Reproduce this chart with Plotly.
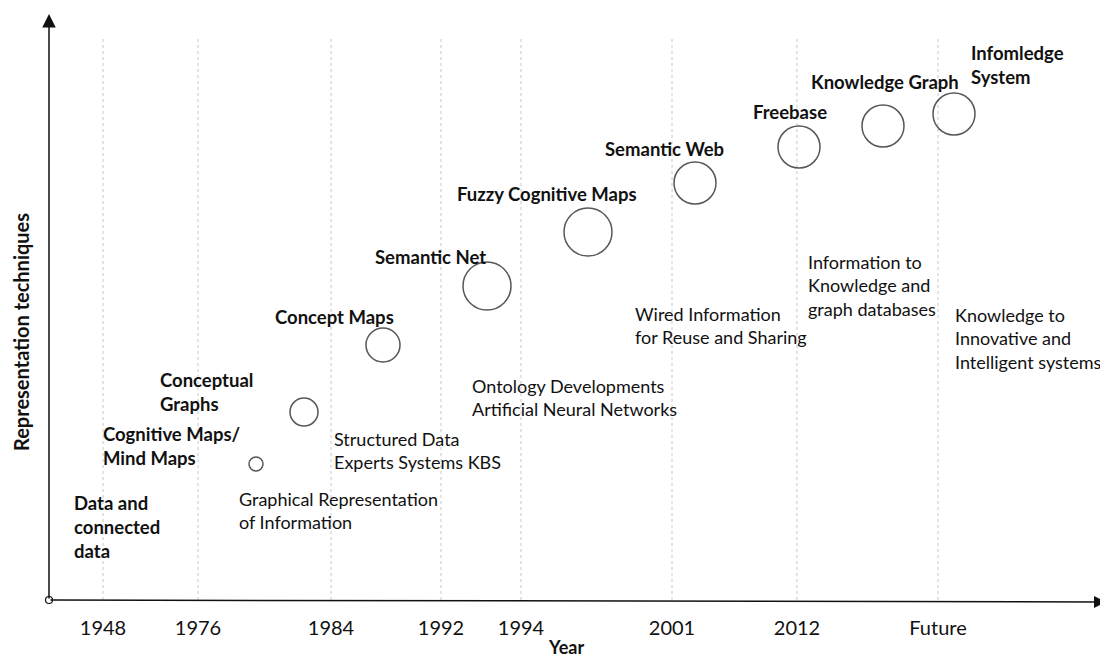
import plotly.graph_objects as go

# ---- data -------------------------------------------------------------
era_labels = ["1948", "1976", "1984", "1992", "1994", "2001", "2012", "Future"]
era_pos = [103, 198, 331, 441, 521, 672, 797, 938]

techniques = ["Cognitive Maps/<br>Mind Maps", "Conceptual<br>Graphs", "Concept Maps",
              "Semantic Net", "Fuzzy Cognitive Maps", "Semantic Web", "Freebase",
              "Knowledge Graph", "Infomledge<br>System"]
tech_x = [256, 304, 383, 487, 588, 695, 799, 883, 954]
tech_level = [136, 188, 255, 314, 368, 417, 453, 474, 486]
tech_size = [14, 28, 34, 48, 48, 42, 42, 42, 42]

# bold labels (technique names + starting point)
bold_text = ["Data and<br>connected<br>data"] + techniques
bold_x = [72, 101, 158, 273, 373, 455, 603, 751, 809, 969]
bold_y = [73, 154, 208, 283, 343, 406, 451, 488, 518, 535]

# descriptive labels
desc_text = ["Graphical Representation<br>of Information",
             "Structured Data<br>Experts Systems KBS",
             "Ontology Developments<br>Artificial Neural Networks",
             "Wired Information<br>for Reuse and Sharing",
             "Information to<br>Knowledge and<br>graph databases",
             "Knowledge to<br>Innovative and<br>Intelligent systems"]
desc_x = [237, 332, 470, 633, 806, 953]
desc_y = [90, 150, 203, 275, 315, 262]

FONT = "Lato"
INK = "#111111"
BOLD_SIZE = 18.5
DESC_SIZE = 18

fig = go.Figure()

# bubbles
fig.add_trace(go.Scatter(
    x=tech_x, y=tech_level, mode="markers",
    marker=dict(size=tech_size, color="rgba(255,255,255,0)",
                line=dict(color=INK, width=1.5)),
    hoverinfo="skip", showlegend=False, cliponaxis=False))

# origin circle
fig.add_trace(go.Scatter(
    x=[49], y=[0], mode="markers",
    marker=dict(size=7, color="white", line=dict(color=INK, width=1.2)),
    hoverinfo="skip", showlegend=False, cliponaxis=False))

shapes = []
for p in era_pos:
    shapes.append(dict(type="line", xref="x", yref="y", x0=p, x1=p, y0=0, y1=562,
                       line=dict(color="#c8c8c8", width=1, dash="dot"), layer="below"))

annotations = []
# axes arrows
annotations.append(dict(x=49, y=586, ax=49, ay=0, xref="x", yref="y", axref="x", ayref="y",
                        text="", showarrow=True, arrowhead=2, arrowsize=1.8, arrowwidth=1.5,
                        arrowcolor=INK))
annotations.append(dict(x=1106, y=-2, ax=49, ay=0, xref="x", yref="y", axref="x", ayref="y",
                        text="", showarrow=True, arrowhead=2, arrowsize=1.6, arrowwidth=1.5,
                        arrowcolor=INK))

for t, x, y in zip(bold_text, bold_x, bold_y):
    annotations.append(dict(x=x, y=y, xref="x", yref="y",
                            text="<b>" + t.replace("<br>", "</b><br><b>") + "</b>",
                            showarrow=False, xanchor="left", yanchor="middle", align="left",
                            font=dict(family=FONT, size=BOLD_SIZE, color=INK)))
for t, x, y in zip(desc_text, desc_x, desc_y):
    annotations.append(dict(x=x, y=y, xref="x", yref="y", text=t,
                            showarrow=False, xanchor="left", yanchor="middle", align="left",
                            font=dict(family=FONT, size=DESC_SIZE, color=INK)))

# axis titles
PLOT_H = 592
annotations.append(dict(x=566, y=-47 / PLOT_H, xref="x", yref="paper", text="<b>Year</b>",
                        showarrow=False, xanchor="center", yanchor="middle",
                        font=dict(family=FONT, size=18, color=INK)))
annotations.append(dict(x=21, y=268, xref="x", yref="y", text="<b>Representation techniques</b>",
                        showarrow=False, textangle=-90, xanchor="center", yanchor="middle",
                        font=dict(family=FONT, size=20, color=INK)))

# page body has an 8px margin: figure is 1100x652 and data coordinates map to page pixels
fig.update_layout(
    width=1100, height=652,
    margin=dict(l=0, r=0, t=0, b=60),
    paper_bgcolor="white", plot_bgcolor="white",
    xaxis=dict(range=[8, 1108], showgrid=False, zeroline=False, showline=False,
               tickvals=era_pos, ticktext=era_labels, ticks="", ticklabelstandoff=14,
               tickfont=dict(family=FONT, size=20, color=INK), fixedrange=True),
    yaxis=dict(range=[0, PLOT_H], showgrid=False, zeroline=False, showline=False,
               showticklabels=False, fixedrange=True),
    shapes=shapes, annotations=annotations,
)

fig.write_html("out.html")
